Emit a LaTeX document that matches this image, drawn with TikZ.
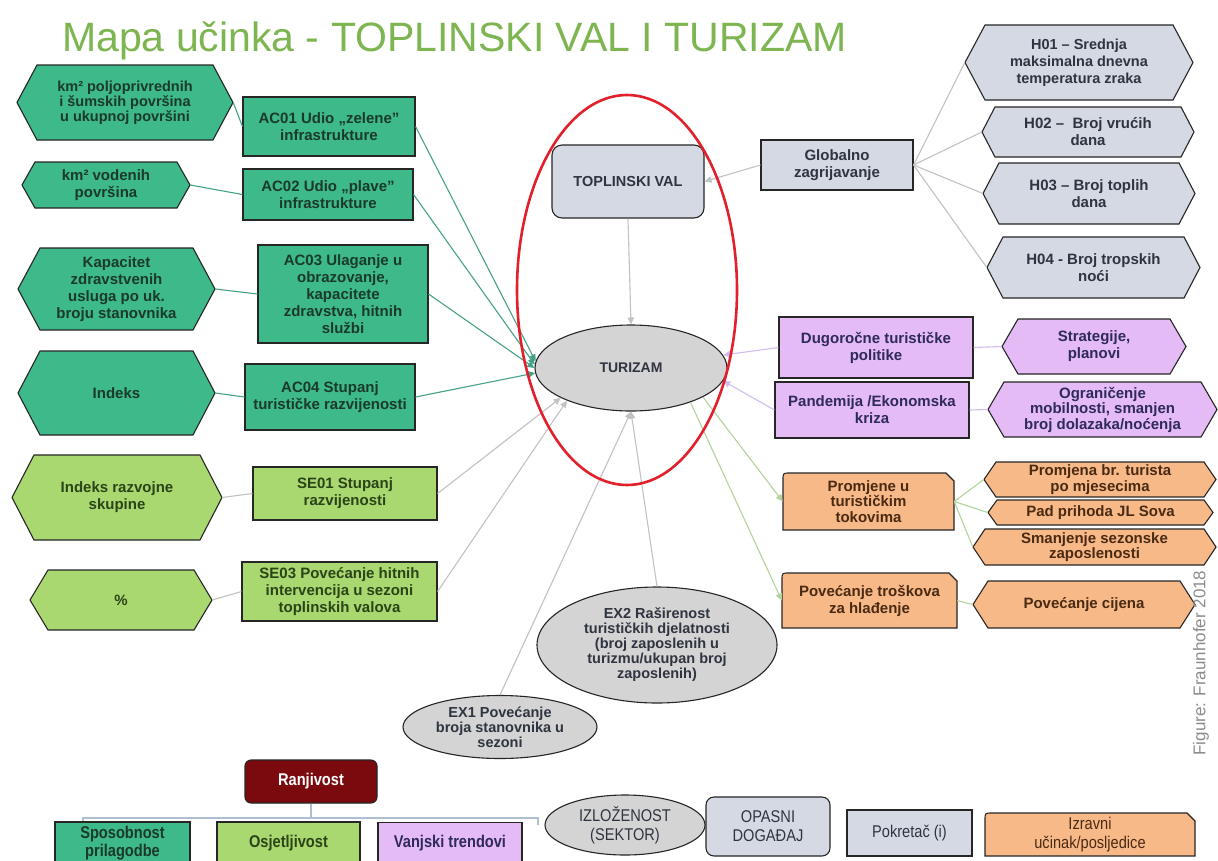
\documentclass[tikz,border=0pt]{standalone}
\usepackage{fontspec}
\setmainfont{Liberation Sans}
\newfontfamily\narrowfont[FakeStretch=0.86]{Liberation Sans}
\usetikzlibrary{arrows.meta,shapes.geometric}

\definecolor{dgfill}{HTML}{3DB98A}
\definecolor{dgtext}{HTML}{1B3A2A}
\definecolor{lgfill}{HTML}{A9D870}
\definecolor{lgtext}{HTML}{2A4418}
\definecolor{lifill}{HTML}{E5BBF5}
\definecolor{litext}{HTML}{2E2A5A}
\definecolor{orfill}{HTML}{F8B989}
\definecolor{ortext}{HTML}{4A2A12}
\definecolor{gbfill}{HTML}{D5D9E3}
\definecolor{gbtext}{HTML}{2F3440}
\definecolor{grfill}{HTML}{D4D4D4}
\definecolor{titlegreen}{HTML}{7DB550}
\definecolor{tealline}{HTML}{45A286}
\definecolor{grayline}{HTML}{C2C2C2}
\definecolor{lilacline}{HTML}{D2BCEE}
\definecolor{greenline}{HTML}{B2D49C}
\definecolor{bracketline}{HTML}{AEBFD2}
\definecolor{darkred}{HTML}{7A0A0E}
\definecolor{focusred}{HTML}{E2202B}
\definecolor{edgecol}{HTML}{262626}

\tikzset{
  base/.style={font=\bfseries\fontsize{15}{17}\selectfont, align=center, inner sep=1pt},
  edgeline/.style={draw=edgecol, line width=1.1pt, line join=miter},
  box/.style={base, rectangle, edgeline},
  sz/.style 2 args={minimum width=#1 pt, minimum height=#2 pt},
  dg/.style={fill=dgfill, text=dgtext},
  lg/.style={fill=lgfill, text=lgtext},
  li/.style={fill=lifill, text=litext},
  gb/.style={fill=gbfill, text=gbtext},
  gr/.style={fill=grfill, text=gbtext},
  og/.style={fill=orfill, text=ortext},
  tight/.style={font=\bfseries\fontsize{15}{15.5}\selectfont},
  conn/.style={line width=1.1pt},
  tealc/.style={conn, draw=tealline},
  grayc/.style={conn, draw=grayline},
  lilacc/.style={conn, draw=lilacline},
  greenc/.style={conn, draw=greenline},
  arr/.style={-{Triangle[length=7pt,width=6.5pt]}},
  legtext/.style={font=\narrowfont\fontsize{17}{19}\selectfont},
  legbold/.style={font=\narrowfont\bfseries\fontsize{17}{18}\selectfont},
}

% [node opts]{name}{colour style}{cx}{cy}{w}{h}{inset}{text}
\newcommand\hexnode[9][]{%
  \filldraw[edgeline,#3] ({#4-#6/2},#5) -- ({#4-#6/2+#8},{#5-#7/2}) -- ({#4+#6/2-#8},{#5-#7/2}) -- ({#4+#6/2},#5) -- ({#4+#6/2-#8},{#5+#7/2}) -- ({#4-#6/2+#8},{#5+#7/2}) -- cycle;
  \node[base,#3,fill=none,draw=none,minimum width=#6 pt,minimum height=#7 pt,#1] (#2) at (#4,#5) {#9};
}
% [node opts]{name}{cx}{cy}{w}{h}{text}
\newcommand\snipnode[7][]{%
  \filldraw[edgeline,fill=orfill] ({#3-#5/2},{#4+#6/2}) -- ({#3-#5/2},{#4-#6/2+7}) .. controls ({#3-#5/2},{#4-#6/2}) .. ({#3-#5/2+7},{#4-#6/2}) -- ({#3+#5/2-8},{#4-#6/2}) -- ({#3+#5/2},{#4-#6/2+8}) -- ({#3+#5/2},{#4+#6/2}) -- cycle;
  \node[base,text=ortext,minimum width=#5 pt,minimum height=#6 pt,#1] (#2) at (#3,#4) {#7};
}

\begin{document}
\begin{tikzpicture}[x=1pt,y=-1pt]
\useasboundingbox (0,0) rectangle (1218,860);
\clip (0,0) rectangle (1218,860);
\fill[white] (0,0) rectangle (1218,860);

% title
\node[anchor=base west, text=titlegreen, inner sep=0, font=\fontsize{41}{46}\selectfont] (title) at (62,51) {Mapa učinka - TOPLINSKI VAL I TURIZAM};

% left: adaptive capacity
\hexnode[font=\bfseries\fontsize{14.5}{15}\selectfont]{hk1}{dg}{125}{102.5}{216}{75}{20}{km² poljoprivrednih\\i šumskih površina\\u ukupnoj površini}
\hexnode{hk2}{dg}{106}{185}{168}{46}{13}{km² vodenih\\površina}
\hexnode{hk3}{dg}{116.5}{289}{197}{82}{22}{Kapacitet\\zdravstvenih\\usluga po uk.\\broju stanovnika}
\hexnode{hk4}{dg}{116.5}{393}{197}{84}{22}{Indeks}
\hexnode{hs1}{lg}{117}{497.5}{210}{85}{22}{Indeks razvojne\\skupine}
\hexnode{hs2}{lg}{121}{600}{182}{60}{18}{\%}

\node[box,dg,sz={172}{59}] (ac1) at (329,126.5) {AC01 Udio „zelene"\\infrastrukture};
\node[box,dg,sz={170}{51}] (ac2) at (328,194.5) {AC02 Udio „plave"\\infrastrukture};
\node[box,dg,sz={170}{98}] (ac3) at (343,294) {AC03 Ulaganje u\\obrazovanje,\\kapacitete\\zdravstva, hitnih\\službi};
\node[box,dg,sz={170}{66}] (ac4) at (330,397) {AC04 Stupanj\\turističke razvijenosti};
\node[box,lg,sz={184}{53}] (se1) at (345,493.5) {SE01 Stupanj\\razvijenosti};
\node[box,lg,sz={195}{59}] (se3) at (339.5,591.5) {SE03 Povećanje hitnih\\intervencija u sezoni\\toplinskih valova};

% centre
\node[base, rectangle, rounded corners=10pt, edgeline, gb, sz={152}{73}, font=\bfseries\fontsize{14.5}{17}\selectfont] (tv) at (628,181.5) {TOPLINSKI VAL};
\node[base, ellipse, edgeline, gr, sz={192}{86}, font=\bfseries\fontsize{14}{17}\selectfont] (tur) at (631,368) {TURIZAM};
\node[base, ellipse, edgeline, gr, sz={240}{116}, font=\bfseries\fontsize{14.5}{15}\selectfont] (ex2) at (657,645) {EX2 Raširenost\\turističkih djelatnosti\\(broj zaposlenih u\\turizmu/ukupan broj\\zaposlenih)};
\node[base, ellipse, edgeline, gr, sz={194}{63}, font=\bfseries\fontsize{14.5}{15}\selectfont] (ex1) at (500,727) {EX1 Povećanje\\broja stanovnika u\\sezoni};

% right: hazard
\node[box,gb,sz={152}{50}] (glob) at (837,165) {Globalno\\zagrijavanje};
\hexnode[font=\bfseries\fontsize{14.5}{17}\selectfont]{h1}{gb}{1079}{62.5}{228}{75}{20}{H01 – Srednja\\maksimalna dnevna\\temperatura zraka}
\hexnode{h2}{gb}{1088}{132}{212}{50}{13}{H02 –\ \ Broj vrućih\\dana}
\hexnode{h3}{gb}{1089}{193.5}{212}{61}{16}{H03 – Broj toplih\\dana}
\hexnode{h4}{gb}{1093.5}{267.5}{213}{61}{16}{H04 - Broj tropskih\\noći}

% right: external trends
\node[box,li,sz={194}{61}] (dug) at (876,347.5) {Dugoročne turističke\\politike};
\node[box,li,sz={194}{56}] (pan) at (872,410) {Pandemija /Ekonomska\\kriza};
\hexnode{str}{li}{1094}{346.5}{184}{55}{16}{Strategije,\\planovi}
\hexnode[tight]{ogr}{li}{1102.5}{409.5}{229}{55}{16}{Ograničenje\\mobilnosti, smanjen\\broj dolazaka/noćenja}

% right: impacts
\snipnode[tight]{pro}{868.5}{501.5}{171}{57}{Promjene u\\turističkim\\tokovima}
\hexnode[tight]{pb1}{og}{1100}{479.5}{232}{35}{12}{Promjena br. turista\\po mjesecima}
\hexnode{pb2}{og}{1100.5}{512.5}{225}{25}{9}{Pad prihoda JL Sova}
\hexnode[tight]{pb3}{og}{1094.5}{547}{243}{36}{12}{Smanjenje sezonske\\zaposlenosti}
\snipnode{pov}{869.5}{600.5}{175}{55}{Povećanje troškova\\za hlađenje}
\hexnode{povc}{og}{1084}{604.5}{222}{47}{15}{Povećanje cijena}

% connectors
\draw[tealc] (hk1.east) -- (ac1.west);
\draw[tealc] (hk2.east) -- (ac2.west);
\draw[tealc] (hk3.east) -- (ac3.west);
\draw[tealc] (hk4.east) -- (ac4.west);
\draw[grayc] (hs1.east) -- (se1.west);
\draw[grayc] (hs2.east) -- (se3.west);
\draw[tealc,arr] (ac1.east) -- (tur.176);
\draw[tealc,arr] (ac2.east) -- (tur.178);
\draw[tealc,arr] (ac3.east) -- (tur.180);
\draw[tealc,arr] (ac4.east) -- (tur.183);
\draw[grayc,arr] (se1.east) -- (tur.203);
\draw[grayc,arr] (se3.east) -- (tur.207);
\draw[grayc,arr] (ex1.north) -- (tur.south);
\draw[grayc,arr] (ex2.north) -- (tur.south);
\draw[grayc,arr] (tv.south) -- (tur.north);
\draw[grayc,arr] (glob.west) -- (tv.east);
\draw[grayc] (glob.east) -- (h1.west);
\draw[grayc] (glob.east) -- (h2.west);
\draw[grayc] (glob.east) -- (h3.west);
\draw[grayc] (glob.east) -- (h4.west);
\draw[lilacc,arr] (dug.west) -- (tur.8);
\draw[lilacc,arr] (pan.west) -- (tur.352);
\draw[lilacc] (dug.east) -- (str.west);
\draw[lilacc] (pan.east) -- (ogr.west);
\draw[greenc,arr] (tur.338) -- (pro.west);
\draw[greenc,arr] (tur.330) -- (pov.west);
\draw[greenc] (pro.east) -- (pb1.west);
\draw[greenc] (pro.east) -- (pb2.west);
\draw[greenc] (pro.east) -- (pb3.west);
\draw[greenc] (pov.east) -- (povc.west);

% focus ellipse
\node[ellipse, draw=focusred, line width=2.6pt, sz={220}{390}] (focus) at (627,290) {};

% credit
\node[rotate=90, text=black!45, font=\fontsize{17}{20}\selectfont, inner sep=0] (credit) at (1201,663) {Figure: Fraunhofer 2018};

% legend
\node[base, rectangle, rounded corners=6pt, edgeline, fill=darkred, text=white, sz={132}{43}, legbold] (ranj) at (311,781.5) {Ranjivost};
\coordinate (bl) at (83,825);
\coordinate (blt) at (83,818);
\coordinate (brt) at (538,818);
\coordinate (br) at (538,825);
\coordinate (bm) at (311,818);
\draw[draw=bracketline, line width=1.2pt] (bl) -- (blt) -- (brt) -- (br);
\draw[draw=bracketline, line width=1.2pt] (ranj.south) -- (bm);
\node[box,dg,sz={135}{42},legbold] (sp) at (122.5,843) {Sposobnost\\prilagodbe};
\node[box,lg,sz={143}{42},legbold] (osj) at (288.5,843) {Osjetljivost};
\node[box,li,sz={144}{42},legbold] (vanj) at (450,843.5) {Vanjski trendovi};
\node[base, ellipse, edgeline, gr, sz={160}{60}, legtext] (izl) at (625,825) {IZLOŽENOST\\(SEKTOR)};
\node[base, rectangle, rounded corners=8pt, edgeline, gb, sz={124}{59}, legtext] (opa) at (768,826.5) {OPASNI\\DOGAĐAJ};
\node[box, gb, sz={125}{46}, legtext] (pok) at (909.5,833) {Pokretač (i)};
\snipnode[legtext]{izr}{1090}{834.5}{210}{43}{Izravni\\učinak/posljedice}
\end{tikzpicture}
\end{document}
